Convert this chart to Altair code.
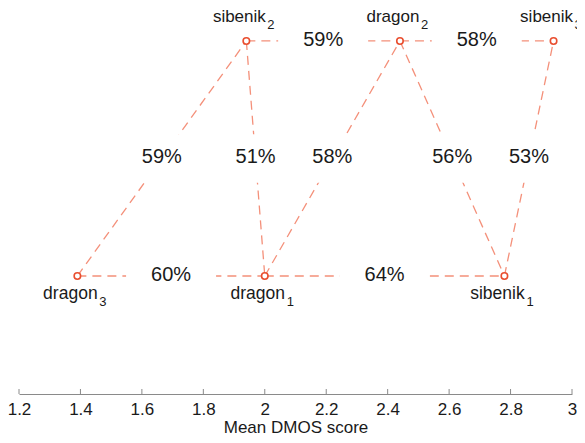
import altair as alt
import pandas as pd

# ---- data ----
node_ids = ["dragon1", "dragon2", "dragon3", "sibenik1", "sibenik2", "sibenik3"]
node_names = ["dragon", "dragon", "dragon", "sibenik", "sibenik", "sibenik"]
node_subs = ["1", "2", "3", "1", "2", "3"]
node_dmos = [2.00, 2.44, 1.39, 2.78, 1.94, 2.94]
node_level = [0, 2, 0, 0, 2, 2]

edge_from = ["dragon3", "dragon1", "sibenik2", "dragon2", "dragon3", "sibenik2", "dragon1", "dragon2", "sibenik1"]
edge_to = ["dragon1", "sibenik1", "dragon2", "sibenik3", "sibenik2", "dragon1", "dragon2", "sibenik1", "sibenik3"]
edge_pct = ["60%", "64%", "59%", "58%", "59%", "51%", "58%", "56%", "53%"]

tick_values = [1.2, 1.4, 1.6, 1.8, 2.0, 2.2, 2.4, 2.6, 2.8, 3.0]

# ---- tables ----
nodes = pd.DataFrame({"id": node_ids, "name": node_names, "sub": node_subs,
                      "x": node_dmos, "y": node_level})
pos = nodes.set_index("id")
edges = pd.DataFrame({"a": edge_from, "b": edge_to, "pct": edge_pct})
edges["x"] = edges["a"].map(pos["x"])
edges["y"] = edges["a"].map(pos["y"])
edges["x2"] = edges["b"].map(pos["x"])
edges["y2"] = edges["b"].map(pos["y"])
edges["xm"] = (edges["x"] + edges["x2"]) / 2
edges["ym"] = (edges["y"] + edges["y2"]) / 2
ticks = pd.DataFrame({"t": tick_values})

FONT = "Liberation Sans"
LINE = "#f4907a"
PT = "#e94e2f"
TXT = "#1a1a1a"

xscale = alt.Scale(domain=[1.2, 3.0], nice=False, zero=False)
yscale = alt.Scale(domain=[-1.004, 2.255], nice=False, zero=False)
xaxis = alt.Axis(values=tick_values, format="~g", ticks=False, tickSize=0,
                 grid=False, domainColor="#8a8a8a", domainWidth=1,
                 labelFont=FONT, labelFontSize=17, labelColor=TXT,
                 labelPadding=7, labelFlush=False,
                 title="Mean DMOS score", titleFont=FONT, titleFontSize=17,
                 titleFontWeight="normal", titleColor=TXT, titlePadding=2)

base_e = alt.Chart(edges)
lines = base_e.mark_rule(color=LINE, strokeWidth=1.3, strokeDash=[9, 6]).encode(
    x=alt.X("x:Q", scale=xscale, axis=xaxis),
    y=alt.Y("y:Q", scale=yscale, axis=None),
    x2="x2:Q", y2="y2:Q")

box_path = "M-1,-0.54L1,-0.54L1,0.54L-1,0.54Z"
boxes = base_e.mark_point(shape=box_path, filled=True, color="white", opacity=1,
                          size=8100, strokeWidth=0).encode(
    x=alt.X("xm:Q", scale=xscale, axis=xaxis),
    y=alt.Y("ym:Q", scale=yscale, axis=None))

pcts = base_e.mark_text(font=FONT, fontSize=20, color=TXT, align="center",
                        baseline="middle", dy=-1).encode(
    x=alt.X("xm:Q", scale=xscale, axis=xaxis),
    y=alt.Y("ym:Q", scale=yscale, axis=None),
    text="pct:N")

tickmarks = alt.Chart(ticks).mark_rule(color="#8a8a8a", strokeWidth=1).encode(
    x=alt.X("t:Q", scale=xscale, axis=xaxis),
    y=alt.value(378), y2=alt.value(383))

base_n = alt.Chart(nodes)
enc = dict(x=alt.X("x:Q", scale=xscale, axis=xaxis),
           y=alt.Y("y:Q", scale=yscale, axis=None))

top_names = base_n.transform_filter("datum.y == 2").mark_text(
    font=FONT, fontSize=17, color=TXT, align="center", baseline="alphabetic",
    dx=-7, dy=-19).encode(text="name:N", **enc)
top_subs = base_n.transform_filter("datum.y == 2").mark_text(
    font=FONT, fontSize=13, color=TXT, align="left", baseline="alphabetic",
    dx=21, dy=-12).encode(text="sub:N", **enc)
bot_names = base_n.transform_filter("datum.y == 0").mark_text(
    font=FONT, fontSize=17.5, color=TXT, align="center", baseline="alphabetic",
    dx=-7, dy=23).encode(text="name:N", **enc)
bot_subs = base_n.transform_filter("datum.y == 0").mark_text(
    font=FONT, fontSize=13, color=TXT, align="left", baseline="alphabetic",
    dx=22, dy=30).encode(text="sub:N", **enc)

points = base_n.mark_point(shape="circle", filled=False, color=PT, size=42,
                           strokeWidth=1.6, fill="white", fillOpacity=1,
                           opacity=1).encode(**enc)

chart = alt.layer(lines, boxes, pcts, tickmarks, top_names, top_subs,
                  bot_names, bot_subs, points).properties(
    width=553, height=383,
    autosize=alt.AutoSizeParams(type="none"),
    padding={"left": 11, "top": 3, "right": 5, "bottom": 41},
    background="white",
).configure_view(stroke=None)

chart.save("out.html", embed_options={"renderer": "svg", "actions": False})
